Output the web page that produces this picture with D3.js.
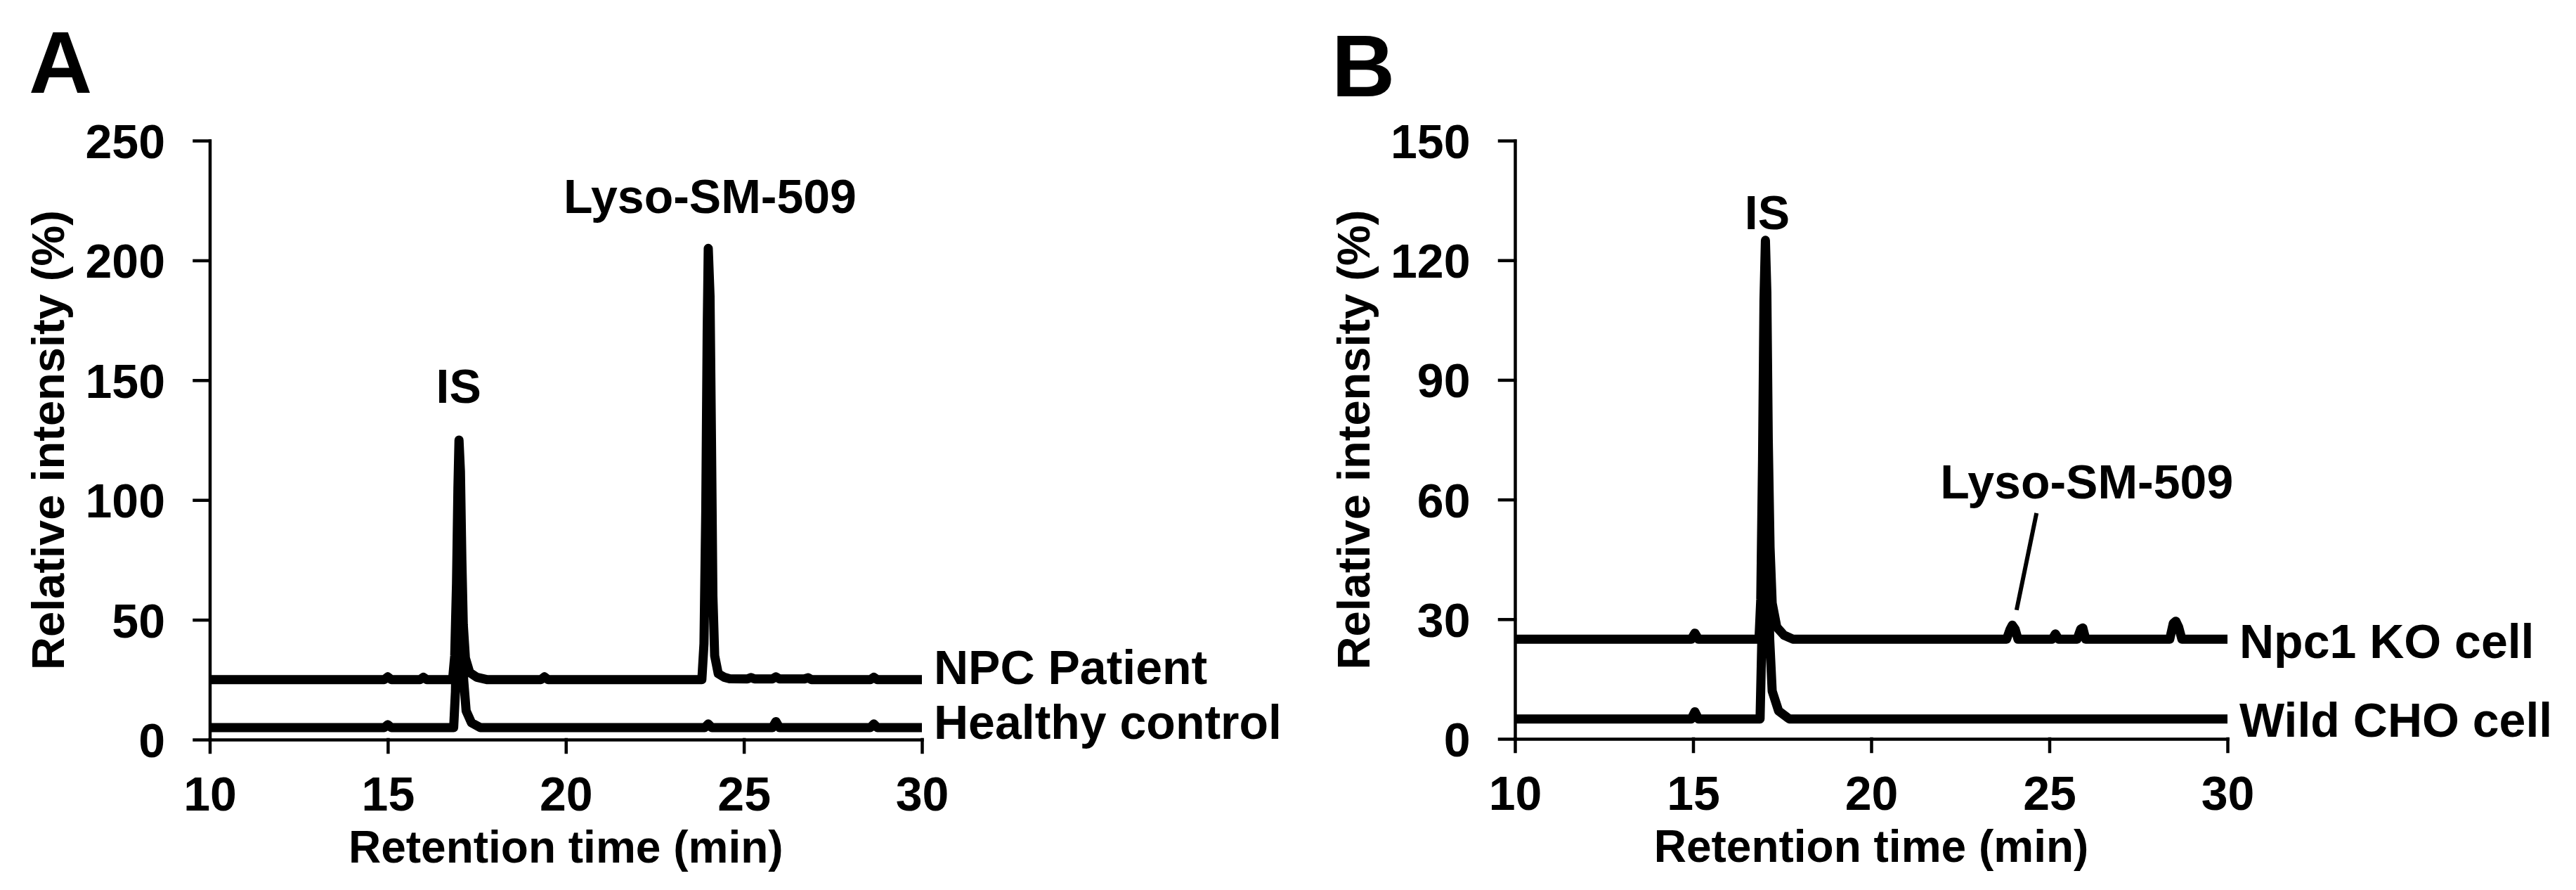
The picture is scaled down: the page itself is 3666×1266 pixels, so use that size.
<!DOCTYPE html>
<html><head><meta charset="utf-8">
<script src="https://cdn.jsdelivr.net/npm/d3@7"></script>
<style>
body{margin:0;background:#fff}
svg{display:block}
text{font-family:"Liberation Sans",Arial,Helvetica,sans-serif;font-weight:bold;fill:#000}
</style>
</head><body>
<svg id="chart" width="3666" height="1266"></svg>
<script>
// ---------- data ----------
const xTicks = [10, 15, 20, 25, 30];
const yTicksA = [0, 50, 100, 150, 200, 250];
const yTicksB = [0, 30, 60, 90, 120, 150];

// Panel A: [retention time (min), relative intensity (%)]
const npcPatient = [[10,25],[14.9,25],[15.0,26.2],[15.1,25],[15.9,25],[16.0,26],[16.1,25],[16.82,25],[16.88,35],[16.93,65],[16.97,105],[17.0,125],[17.04,112],[17.08,75],[17.12,48],[17.18,34],[17.3,28],[17.5,26],[17.8,25],[19.3,25],[19.4,26.2],[19.5,25],[23.82,25],[23.88,40],[23.93,95],[23.97,170],[24.0,205],[24.05,185],[24.09,125],[24.13,60],[24.18,35],[24.28,27.5],[24.45,26],[24.6,25.4],[25.1,25.3],[25.2,25.9],[25.3,25.3],[25.8,25.3],[25.9,26.2],[26.0,25.3],[26.7,25.3],[26.8,25.8],[26.9,25],[28.55,25],[28.65,26],[28.75,25],[30,25]];
const healthyControl = [[10,5],[14.9,5],[15.0,6.2],[15.1,5],[16.85,5],[16.9,20],[16.95,60],[16.98,95],[17.01,105],[17.05,85],[17.09,50],[17.13,25],[17.2,12],[17.35,7],[17.6,5],[23.9,5],[24.0,6.5],[24.1,5],[25.8,5],[25.9,7.5],[26.0,5],[28.55,5],[28.65,6.5],[28.75,5],[30,5]];

// Panel B
const npc1KO = [[10,25],[14.95,25],[15.05,26.5],[15.15,25],[16.85,25],[16.9,35],[16.95,70],[16.99,110],[17.03,125],[17.07,112],[17.11,75],[17.16,48],[17.22,34],[17.35,28],[17.55,26],[17.8,25],[23.8,25],[23.9,27.5],[23.96,28.5],[24.04,27.5],[24.12,25],[25.08,25],[25.17,26.3],[25.26,25],[25.78,25],[25.88,27.5],[25.94,27.8],[26.02,25],[28.38,25],[28.48,29],[28.55,29.5],[28.63,28],[28.72,25],[30,25]];
const wildCHO = [[10,5],[14.95,5],[15.05,6.8],[15.15,5],[16.88,5],[16.93,25],[16.98,70],[17.02,105],[17.06,85],[17.1,50],[17.15,25],[17.22,12],[17.4,7],[17.7,5],[30,5]];

// annotations (data coordinates)
const annotA = [{text:"IS", t:16.99, v:140.5}, {text:"Lyso-SM-509", t:24.05, v:219.8}];
const annotB = [{text:"IS", t:17.08, v:127.8}, {text:"Lyso-SM-509", t:26.05, v:60.3}];
const leaderB = [[24.64,56.6],[24.08,32.3]];

// ---------- layout ----------
const svg = d3.select("#chart");
const FONT_TICK = 68, FONT_TITLE = 64;

const panels = [
  {letter:"A", letterX:41, letterY:132, x0:298.5, x1:1312, y0:1052, y1:200, yMax:250, yTicks:yTicksA,
   series:[{name:"NPC Patient", data:npcPatient, dy:6},{name:"Healthy control", data:healthyControl, dy:16}],
   annots:annotA, leader:null},
  {letter:"B", letterX:1895, letterY:137, x0:2156, x1:3170, y0:1051, y1:200, yMax:150, yTicks:yTicksB,
   series:[{name:"Npc1 KO cell", data:npc1KO, dy:27},{name:"Wild CHO cell", data:wildCHO, dy:25}],
   annots:annotB, leader:leaderB}
];

panels.forEach(p => {
  const x = d3.scaleLinear().domain([10,30]).range([p.x0,p.x1]);
  const y = d3.scaleLinear().domain([0,p.yMax]).range([p.y0,p.y1]);
  const g = svg.append("g");

  // panel letter
  g.append("text").attr("x",p.letterX).attr("y",p.letterY)
    .style("font-size","125px").text(p.letter);

  // y axis
  const ya = g.append("g").attr("transform",`translate(${p.x0},0)`)
    .call(d3.axisLeft(y).tickValues(p.yTicks).tickSize(22).tickSizeOuter(0).tickPadding(41.5).tickFormat(d3.format("d")));
  // x axis
  const xa = g.append("g").attr("transform",`translate(0,${p.y0})`)
    .call(d3.axisBottom(x).tickValues(xTicks).tickSize(18).tickSizeOuter(0).tickPadding(40).tickFormat(d3.format("d")));
  [ya,xa].forEach(a=>{
    a.selectAll("path,line").attr("stroke","#000").attr("stroke-width",4.5).attr("stroke-linecap","square");
    a.selectAll("text").style("font-size",FONT_TICK+"px").style("font-family",'"Liberation Sans",Arial,sans-serif').style("font-weight","bold").attr("fill","#000");
  });
  ya.selectAll("text").attr("dy","0.36em");
  xa.selectAll("text").attr("dy",0).attr("y",101);

  // axis titles
  g.append("text").attr("x",(p.x0+p.x1)/2).attr("y",p.y0+175)
    .attr("text-anchor","middle").style("font-size",FONT_TITLE+"px").text("Retention time (min)");
  g.append("text").attr("transform",`translate(${p.x0-207.5},${(p.y0+p.y1)/2}) rotate(-90)`)
    .attr("text-anchor","middle").style("font-size","65px").text("Relative intensity (%)");

  // traces
  const line = d3.line().x(d=>x(d[0])).y(d=>y(d[1]));
  p.series.forEach(s=>{
    g.append("path").datum(s.data).attr("d",line)
      .attr("fill","none").attr("stroke","#000").attr("stroke-width",13)
      .attr("stroke-linejoin","round").attr("stroke-linecap","butt");
    const last = s.data[s.data.length-1];
    g.append("text").attr("x",x(last[0])+17).attr("y",y(last[1])+s.dy)
      .style("font-size","68px").text(s.name);
  });

  // annotations
  p.annots.forEach(a=>{
    g.append("text").attr("x",x(a.t)).attr("y",y(a.v)).attr("text-anchor","middle")
      .style("font-size","68px").text(a.text);
  });
  if (p.leader) {
    g.append("path").datum(p.leader).attr("d",line)
      .attr("fill","none").attr("stroke","#000").attr("stroke-width",6);
  }
});
</script>
</body></html>
